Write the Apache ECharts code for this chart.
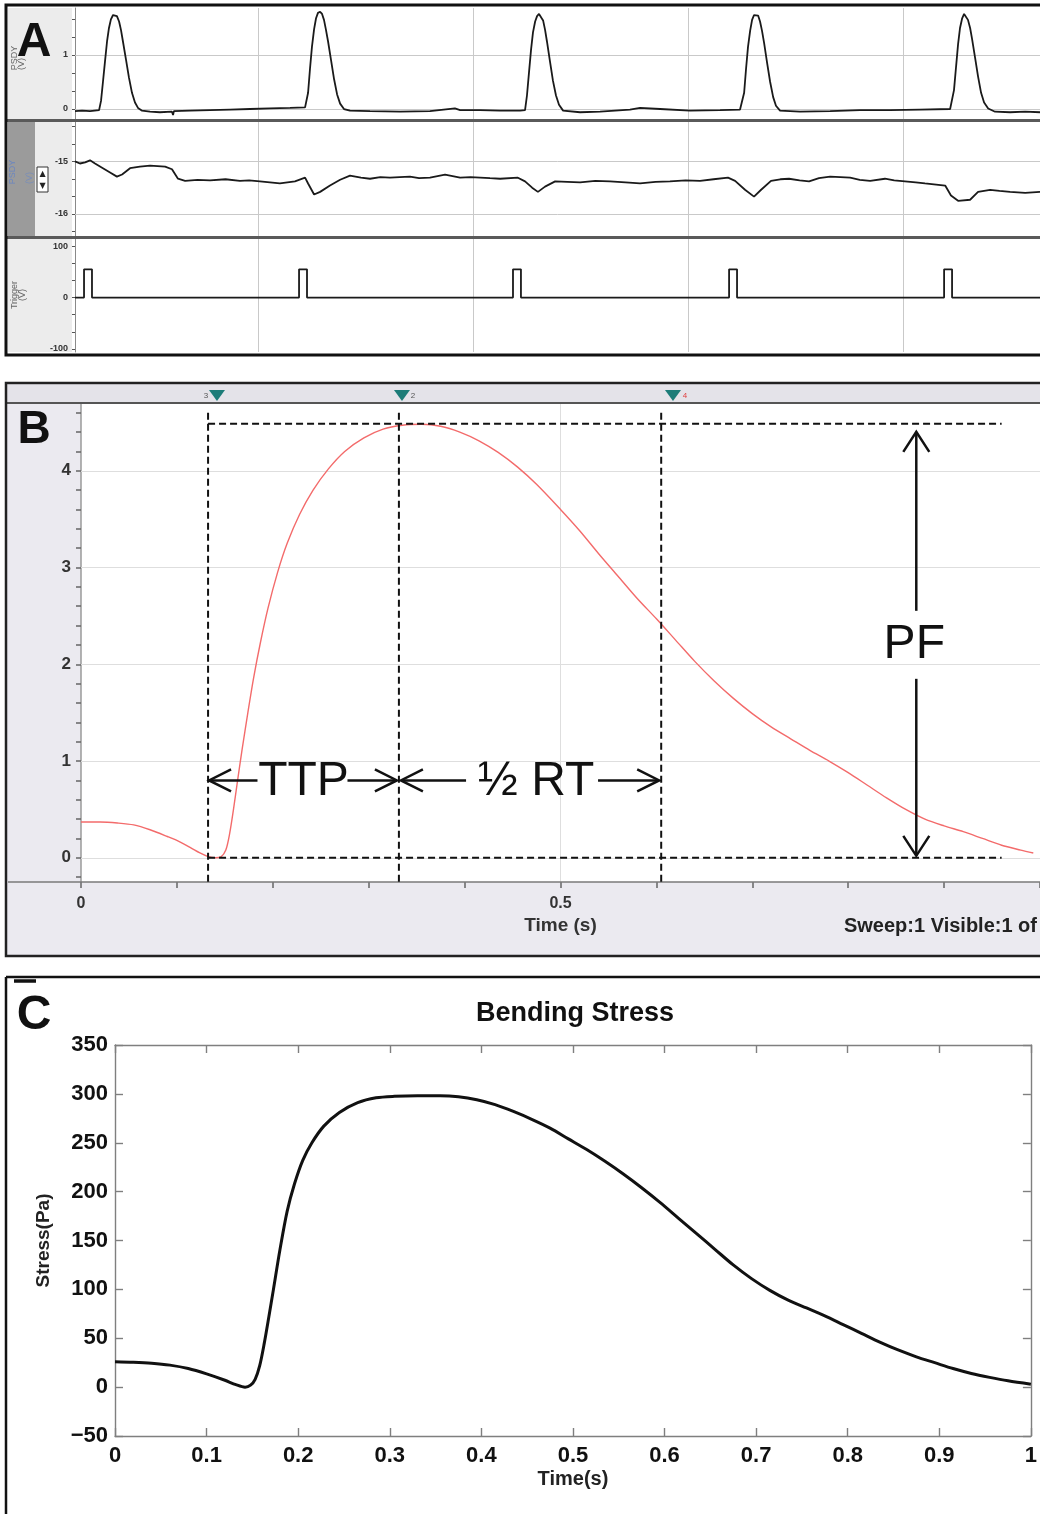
<!DOCTYPE html>
<html><head><meta charset="utf-8">
<script src="https://cdn.jsdelivr.net/npm/echarts@6.0.0/dist/echarts.min.js"></script>
<style>html,body{margin:0;padding:0;background:#fff}#c{width:1040px;height:1514px}</style>
</head><body><div id="c"></div>
<script>
// ================= DATA =================
// Panel A (time in s, one pacing period per grid division)
const aGridTimes = [0.847, 1.847, 2.847, 3.847];
const aPsdyTicks = [0, 0.333, 0.667, 1, 1.333, 1.667];
const aPsdyLabels = [0, 1];
const aPsdyGrid = [0, 1];
const aPsdy = [
 [0,-0.04],[0.033,-0.03],[0.07,-0.04],[0.112,-0.02],[0.121,0.15],[0.13,0.5],[0.14,0.9],[0.149,1.25],[0.158,1.5],[0.167,1.66],[0.177,1.74],[0.186,1.76],[0.195,1.72],[0.205,1.62],[0.214,1.46],[0.223,1.25],[0.237,0.92],[0.251,0.58],[0.265,0.3],[0.279,0.12],[0.293,0.02],[0.312,-0.03],[0.349,-0.05],[0.395,-0.06],[0.451,-0.05],[0.456,-0.11],[0.46,-0.04],[0.535,-0.03],[0.628,-0.02],[0.721,-0.01],[0.814,0.0],[0.907,0.01],[1.0,0.02],[1.07,0.03],
 [1.074,0.04],[1.084,0.3],[1.093,0.75],[1.102,1.15],[1.112,1.48],[1.121,1.68],[1.13,1.78],[1.14,1.8],[1.149,1.76],[1.158,1.65],[1.167,1.47],[1.177,1.25],[1.191,0.9],[1.205,0.55],[1.219,0.27],[1.233,0.1],[1.251,0.0],[1.279,-0.03],[1.372,-0.04],[1.512,-0.05],[1.651,-0.04],[1.767,0.01],[1.791,-0.02],[1.884,-0.02],[1.977,-0.03],[2.07,-0.03],
 [2.093,-0.02],[2.102,0.25],[2.112,0.7],[2.121,1.1],[2.13,1.42],[2.14,1.62],[2.149,1.72],[2.158,1.76],[2.167,1.74],[2.177,1.64],[2.186,1.47],[2.195,1.25],[2.209,0.88],[2.223,0.52],[2.237,0.25],[2.251,0.08],[2.27,-0.03],[2.349,-0.06],[2.442,-0.05],[2.581,-0.01],[2.628,0.02],[2.721,0.0],[2.86,-0.03],[3.0,-0.02],[3.093,-0.01],
 [3.102,0.0],[3.112,0.3],[3.121,0.75],[3.13,1.15],[3.14,1.45],[3.149,1.65],[3.158,1.74],[3.167,1.77],[3.177,1.73],[3.186,1.62],[3.195,1.45],[3.205,1.22],[3.219,0.85],[3.233,0.5],[3.247,0.22],[3.26,0.06],[3.279,-0.03],[3.372,-0.05],[3.512,-0.04],[3.651,-0.02],[3.791,-0.02],[3.93,-0.01],[4.07,0.0],
 [4.079,0.02],[4.088,0.35],[4.098,0.8],[4.107,1.2],[4.116,1.5],[4.126,1.68],[4.135,1.76],[4.144,1.74],[4.153,1.65],[4.163,1.5],[4.172,1.3],[4.186,0.95],[4.2,0.6],[4.214,0.3],[4.228,0.12],[4.247,0.01],[4.279,-0.05],[4.349,-0.06],[4.419,-0.05],[4.488,-0.06]
];
const aPsd2Ticks = [-14.333, -14.667, -15, -15.333, -15.667, -16, -16.333];
const aPsd2Labels = [-15, -16];
const aPsd2Grid = [-15, -16];
const aPsd2 = [
 [0,-15.0],[0.023,-15.04],[0.047,-15.02],[0.07,-14.98],[0.093,-15.04],[0.126,-15.12],[0.163,-15.21],[0.195,-15.29],[0.219,-15.25],[0.256,-15.13],[0.302,-15.1],[0.349,-15.08],[0.419,-15.1],[0.451,-15.15],[0.479,-15.33],[0.512,-15.37],[0.57,-15.35],[0.628,-15.36],[0.7,-15.34],[0.767,-15.37],[0.81,-15.36],[0.86,-15.38],[0.953,-15.42],[1.023,-15.38],[1.07,-15.31],
 [1.084,-15.42],[1.112,-15.63],[1.14,-15.58],[1.186,-15.46],[1.233,-15.35],[1.279,-15.27],[1.33,-15.31],[1.372,-15.33],[1.42,-15.3],[1.465,-15.31],[1.51,-15.3],[1.558,-15.29],[1.6,-15.32],[1.651,-15.31],[1.721,-15.25],[1.791,-15.31],[1.84,-15.3],[1.884,-15.31],[1.93,-15.32],[1.977,-15.33],[2.06,-15.31],
 [2.093,-15.38],[2.126,-15.5],[2.153,-15.58],[2.186,-15.48],[2.233,-15.38],[2.29,-15.39],[2.349,-15.4],[2.42,-15.37],[2.488,-15.38],[2.56,-15.4],[2.628,-15.42],[2.7,-15.39],[2.767,-15.38],[2.84,-15.36],[2.907,-15.37],[2.97,-15.34],[3.037,-15.31],
 [3.07,-15.37],[3.116,-15.54],[3.158,-15.67],[3.191,-15.54],[3.237,-15.37],[3.28,-15.34],[3.321,-15.33],[3.37,-15.36],[3.414,-15.38],[3.46,-15.32],[3.512,-15.29],[3.56,-15.3],[3.605,-15.31],[3.65,-15.35],[3.698,-15.37],[3.767,-15.33],[3.81,-15.36],[3.86,-15.38],[3.91,-15.4],[3.953,-15.42],[4.047,-15.46],
 [4.074,-15.65],[4.107,-15.75],[4.163,-15.73],[4.2,-15.58],[4.256,-15.54],[4.3,-15.56],[4.349,-15.58],[4.419,-15.6],[4.488,-15.58]
];
const aTrigTicks = [-100, -66.7, -33.3, 0, 33.3, 66.7, 100];
const aTrigLabels = [-100, 0, 100];
const aTrig = [
 [0,0],[0.042,0],[0.042,55],[0.079,55],[0.079,0],
 [1.042,0],[1.042,55],[1.079,55],[1.079,0],
 [2.037,0],[2.037,55],[2.074,55],[2.074,0],
 [3.042,0],[3.042,55],[3.079,55],[3.079,0],
 [4.042,0],[4.042,55],[4.079,55],[4.079,0],[4.488,0]
];

// Panel B (force, time s)
const bYTicks = [-0.2,0,0.2,0.4,0.6,0.8,1,1.2,1.4,1.6,1.8,2,2.2,2.4,2.6,2.8,3,3.2,3.4,3.6,3.8,4,4.2,4.4,4.6];
const bYLabels = [0, 1, 2, 3, 4];
const bXLabels = [0, 0.5];
const bGridY = [0, 1, 2, 3, 4];
const bGridX = [0.5];
const bForce = [
 [0,0.37],[0.02,0.37],[0.038,0.36],[0.055,0.34],[0.072,0.29],[0.09,0.22],[0.103,0.165],[0.115,0.1],[0.124,0.05],[0.132,0.015],[0.14,0],[0.146,0.01],[0.151,0.08],[0.155,0.25],[0.159,0.5],[0.163,0.78],[0.168,1.12],[0.174,1.5],[0.18,1.86],[0.187,2.22],[0.195,2.58],[0.205,2.95],[0.215,3.25],[0.228,3.55],[0.242,3.8],[0.258,4.02],[0.275,4.2],[0.295,4.34],[0.315,4.43],[0.335,4.47],[0.355,4.48],[0.375,4.46],[0.395,4.4],[0.415,4.31],[0.435,4.19],[0.455,4.04],[0.475,3.86],[0.5,3.6],[0.52,3.38],[0.54,3.14],[0.56,2.91],[0.58,2.68],[0.6,2.47],[0.62,2.25],[0.64,2.03],[0.66,1.83],[0.68,1.65],[0.7,1.49],[0.72,1.35],[0.74,1.23],[0.76,1.11],[0.78,1.0],[0.8,0.88],[0.82,0.75],[0.84,0.62],[0.86,0.5],[0.88,0.4],[0.9,0.33],[0.92,0.27],[0.94,0.2],[0.96,0.13],[0.98,0.08],[0.993,0.05]
];
const bOnsetT = 0.1325, bPeakT = 0.3315, bHalfT = 0.605, bPeakV = 4.485, bEndT = 0.96;
const bArrowV = 0.8, bPfT = 0.871, bDashTopV = 4.6;
const bCursorT = [0.1418, 0.3347, 0.6173];
const bCursorLbl = ['3', '2', '4'];

// Panel C (bending stress, Pa)
const cStress = [
 [0,26],[0.02,25.5],[0.04,24.5],[0.06,22.5],[0.08,19],[0.1,13.5],[0.12,7],[0.132,2.5],[0.142,0],[0.148,2],[0.153,8],[0.158,22],[0.163,45],[0.168,72],[0.173,100],[0.18,140],[0.188,180],[0.196,208],[0.205,232],[0.215,250],[0.228,267],[0.245,281],[0.265,291],[0.285,296],[0.305,297.5],[0.33,298],[0.355,298],[0.375,297],[0.395,294],[0.415,289],[0.435,282],[0.455,274],[0.475,265],[0.495,254],[0.515,243],[0.535,231],[0.555,218],[0.575,204],[0.595,189],[0.615,173],[0.635,157],[0.655,141],[0.675,125],[0.695,111],[0.715,99],[0.735,89],[0.755,81],[0.775,73],[0.795,64],[0.815,55],[0.835,46],[0.855,38],[0.875,31],[0.895,25],[0.915,19],[0.935,14],[0.955,10],[0.975,6.5],[1.0,3]
];

// ================= CHART =================
const FF = "'Liberation Sans', Arial, sans-serif";
const chart = echarts.init(document.getElementById('c'));

function aX(i){ return {type:'value', gridIndex:i, min:0, max:4.488, show:false}; }
function aY(i, min, max, ticks, labels){
  return {type:'value', gridIndex:i, min:min, max:max,
    axisLine:{show:true, onZero:false, lineStyle:{color:'#8a8a8a', width:1}},
    axisTick:{show:true, length:3, customValues:ticks, lineStyle:{color:'#555', width:1}},
    axisLabel:{show:true, customValues:labels, fontSize:9, fontWeight:'bold', color:'#333', margin:7, fontFamily:FF},
    splitLine:{show:false}};
}
function gridMarks(xs, ys, color){
  const d = [];
  xs.forEach(function(t){ d.push({xAxis:t}); });
  ys.forEach(function(v){ d.push({yAxis:v}); });
  return {silent:true, symbol:'none', z:1, animation:false, label:{show:false},
    lineStyle:{color:color, width:1, type:'solid'}, emphasis:{disabled:true}, data:d};
}
const cAxisLine = {show:true, onZero:false, lineStyle:{color:'#7f7f7f', width:1.4}};
const cTick = {show:true, inside:true, length:8, lineStyle:{color:'#7f7f7f', width:1.4}};

const option = {
  animation:false,
  backgroundColor:'#ffffff',
  grid:[
    {left:75, top:8, right:0, height:111, show:true, backgroundColor:'#fff', borderWidth:0},
    {left:75, top:122, right:0, height:114, show:true, backgroundColor:'#fff', borderWidth:0},
    {left:75, top:239, right:0, height:113, show:true, backgroundColor:'#fff', borderWidth:0},
    {left:81, top:404, width:959, height:478, show:true, backgroundColor:'#fff', borderWidth:0},
    {left:115, top:1045, width:920, height:391, show:false}
  ],
  xAxis:[
    aX(0), aX(1), aX(2),
    {type:'value', gridIndex:3, min:0, max:1, interval:0.1,
     axisLine:{show:false, onZero:false},
     axisTick:{show:true, length:6, lineStyle:{color:'#666', width:1.5}},
     axisLabel:{customValues:bXLabels, fontSize:16, fontWeight:'bold', color:'#333', margin:14, fontFamily:FF},
     splitLine:{show:false},
     name:'Time (s)', nameLocation:'middle', nameGap:34,
     nameTextStyle:{fontSize:19, fontWeight:'bold', color:'#333', fontFamily:FF}},
    {type:'value', gridIndex:4, min:0, max:1, interval:0.1, position:'bottom',
     axisLine:cAxisLine, axisTick:cTick,
     axisLabel:{fontSize:22, fontWeight:'bold', color:'#111', margin:9, fontFamily:FF},
     splitLine:{show:false},
     name:'Time(s)', nameLocation:'middle', nameGap:33,
     nameTextStyle:{fontSize:20, fontWeight:'bold', color:'#222', fontFamily:FF}},
    {type:'value', gridIndex:4, min:0, max:1, interval:0.1, position:'top',
     axisLine:cAxisLine, axisTick:cTick, axisLabel:{show:false}, splitLine:{show:false}}
  ],
  yAxis:[
    aY(0, -0.185, 1.87, aPsdyTicks, aPsdyLabels),
    aY(1, -16.42, -14.25, aPsd2Ticks, aPsd2Labels),
    aY(2, -106, 114, aTrigTicks, aTrigLabels),
    {type:'value', gridIndex:3, min:-0.25, max:4.69,
     axisLine:{show:true, onZero:false, lineStyle:{color:'#9a9a9a', width:1.5}},
     axisTick:{show:true, length:5, customValues:bYTicks, lineStyle:{color:'#666', width:1.5}},
     axisLabel:{customValues:bYLabels, fontSize:17, fontWeight:'bold', color:'#333', margin:10, fontFamily:FF},
     splitLine:{show:false}},
    {type:'value', gridIndex:4, min:-50, max:350, interval:50, position:'left',
     axisLine:cAxisLine, axisTick:cTick,
     axisLabel:{fontSize:22, fontWeight:'bold', color:'#111', margin:7, fontFamily:FF,
       formatter:function(v){ return String(v).replace('-', '\u2212'); }},
     splitLine:{show:false},
     name:'Stress(Pa)', nameLocation:'middle', nameGap:62, nameRotate:90,
     nameTextStyle:{fontSize:19, fontWeight:'bold', color:'#222', fontFamily:FF}},
    {type:'value', gridIndex:4, min:-50, max:350, interval:50, position:'right',
     axisLine:cAxisLine, axisTick:cTick, axisLabel:{show:false}, splitLine:{show:false}}
  ],
  series:[
    {type:'line', xAxisIndex:0, yAxisIndex:0, data:aPsdy, symbol:'none', z:10,
     lineStyle:{color:'#1a1a1a', width:1.8}, markLine:gridMarks(aGridTimes, aPsdyGrid, '#c9c9c9')},
    {type:'line', xAxisIndex:1, yAxisIndex:1, data:aPsd2, symbol:'none', z:10,
     lineStyle:{color:'#1a1a1a', width:1.8}, markLine:gridMarks(aGridTimes, aPsd2Grid, '#c9c9c9')},
    {type:'line', xAxisIndex:2, yAxisIndex:2, data:aTrig, symbol:'none', z:10,
     lineStyle:{color:'#1a1a1a', width:1.8}, markLine:gridMarks(aGridTimes, [], '#c9c9c9')},
    {type:'line', xAxisIndex:3, yAxisIndex:3, data:bForce, symbol:'none', smooth:0.3, z:10,
     lineStyle:{color:'#f36b6b', width:1.4}, markLine:gridMarks(bGridX, bGridY, '#dedede')},
    {type:'line', xAxisIndex:4, yAxisIndex:4, data:cStress, symbol:'none', smooth:0.3, z:10,
     lineStyle:{color:'#111', width:3}}
  ]
};
chart.setOption(option);

// ================= OVERLAY GRAPHICS =================
function P(gi, x, y){ return chart.convertToPixel({gridIndex:gi}, [x, y]); }
function txt(x, y, text, o){ o = o || {};
  return {type:'text', x:x, y:y, z:(o.z||70), rotation:(o.rot||0), silent:true,
    style:{text:text, fill:(o.color||'#111'), font:(o.weight||'normal')+' '+(o.size||12)+'px '+(o.family||FF),
      align:(o.align||'center'), verticalAlign:(o.va||'middle'), textAlign:(o.align||'center'), textVerticalAlign:(o.va||'middle')}}; }
function ln(x1, y1, x2, y2, o){ o = o || {};
  return {type:'line', z:(o.z||60), silent:true, shape:{x1:x1, y1:y1, x2:x2, y2:y2},
    style:{stroke:(o.color||'#111'), lineWidth:(o.w||2), lineDash:(o.dash||null)}}; }
function rc(x, y, w, h, o){ o = o || {};
  return {type:'rect', z:(o.z==null?1:o.z), silent:true, shape:{x:x, y:y, width:w, height:h},
    style:{fill:(o.fill||'none'), stroke:(o.stroke||null), lineWidth:(o.w||0)}}; }
function pl(pts, o){ o = o || {};
  return {type:'polyline', z:(o.z||65), silent:true, shape:{points:pts},
    style:{stroke:(o.color||'#111'), lineWidth:(o.w||2.5), fill:null}}; }
function pg(pts, o){ o = o || {};
  return {type:'polygon', z:(o.z||65), silent:true, shape:{points:pts}, style:{fill:(o.fill||'#111')}}; }

const G = [];
// ---- Panel A frame and labels
G.push(rc(8, 8, 64, 111, {fill:'#ececec', z:-5}));
G.push(rc(8, 122, 27, 114, {fill:'#9b9b9b', z:-5}));
G.push(rc(35, 122, 37, 114, {fill:'#ececec', z:-5}));
G.push(rc(8, 239, 64, 113, {fill:'#ececec', z:-5}));
G.push(rc(7, 119, 1040, 3, {fill:'#5a5a5a', z:60}));
G.push(rc(7, 236, 1040, 3, {fill:'#5a5a5a', z:60}));
G.push(rc(6, 5, 1040, 350, {stroke:'#111', w:3, z:90}));
G.push(txt(15, 58, 'PSDY', {size:9, color:'#666', rot:Math.PI/2}));
G.push(txt(22, 64, '(V)', {size:9, color:'#666', rot:Math.PI/2}));
G.push(txt(34, 43, 'A', {size:48, weight:'bold', z:80}));
G.push(txt(13, 172, 'PSDY', {size:9, color:'#6b86c0', rot:Math.PI/2}));
G.push(txt(30, 178, '(V)', {size:9, color:'#7a8fb8', rot:Math.PI/2}));
G.push(rc(37, 167, 11, 25, {fill:'#fff', stroke:'#333', w:1, z:5}));
G.push(txt(42.5, 174, '\u25B2', {size:8, color:'#222', family:"'DejaVu Sans', sans-serif"}));
G.push(txt(42.5, 186, '\u25BC', {size:8, color:'#222', family:"'DejaVu Sans', sans-serif"}));
G.push(txt(15, 295, 'Trigger', {size:9, color:'#666', rot:Math.PI/2}));
G.push(txt(23, 295, '(V)', {size:9, color:'#666', rot:Math.PI/2}));

// ---- Panel B frame
G.push(rc(7, 384, 1040, 572, {fill:'#ebeaf0', z:-10}));
G.push(rc(7, 385, 1040, 17, {fill:'#e4e3e9', z:-9}));
G.push(ln(7, 403, 1040, 403, {color:'#555', w:2, z:60}));
G.push(ln(8, 882, 1040, 882, {color:'#7a7a7a', w:1.5, z:60}));
G.push(rc(6, 383, 1040, 573, {stroke:'#222', w:2.5, z:90}));
G.push(txt(34, 430, 'B', {size:46, weight:'bold', z:80}));
G.push(txt(1037, 926, 'Sweep:1 Visible:1 of', {size:20, weight:'bold', align:'right', color:'#222'}));

// cursors
bCursorT.forEach(function(t, i){
  const x = P(3, t, 0)[0];
  G.push(pg([[x-8, 390], [x+8, 390], [x, 401]], {fill:'#1c7c78', z:70}));
  if (i === 0) G.push(txt(x-11, 396, bCursorLbl[i], {size:8, color:'#555'}));
  else if (i === 1) G.push(txt(x+11, 396, bCursorLbl[i], {size:8, color:'#555'}));
  else G.push(txt(x+12, 396, bCursorLbl[i], {size:8, color:'#e04040'}));
});

// annotations
const xOn = P(3, bOnsetT, 0)[0], xPk = P(3, bPeakT, 0)[0], xHf = P(3, bHalfT, 0)[0];
const xEnd = P(3, bEndT, 0)[0];
const yPk = P(3, 0, bPeakV)[1], y0 = P(3, 0, 0)[1];
const yTop = P(3, 0, bDashTopV)[1], yBot = P(3, 0, -0.25)[1];
const dashO = {color:'#111', w:2, dash:[7,4], z:62};
[xOn, xPk, xHf].forEach(function(x){ G.push(ln(x, yTop, x, yBot, dashO)); });
[yPk, y0].forEach(function(y){ G.push(ln(xOn, y, xEnd, y, dashO)); });

const yA = P(3, 0, bArrowV)[1];
const aw = 2.5;
function headL(x, y){ return pl([[x+22, y-11], [x, y], [x+22, y+11]], {w:aw}); }
function headR(x, y){ return pl([[x-22, y-11], [x, y], [x-22, y+11]], {w:aw}); }
function headU(x, y){ return pl([[x-13, y+20], [x, y], [x+13, y+20]], {w:aw}); }
function headD(x, y){ return pl([[x-13, y-20], [x, y], [x+13, y-20]], {w:aw}); }
// TTP
const cT = (xOn + xPk) / 2;
G.push(ln(xOn+1, yA, cT-46, yA, {w:aw, z:65}));
G.push(ln(cT+44, yA, xPk-2, yA, {w:aw, z:65}));
G.push(headL(xOn+1, yA)); G.push(headR(xPk-2, yA));
G.push(txt(cT, yA+1, 'TTP', {size:48, color:'#111', z:66}));
// 1/2 RT
const cR = (xPk + xHf) / 2 + 6;
G.push(ln(xPk+2, yA, cR-70, yA, {w:aw, z:65}));
G.push(ln(cR+62, yA, xHf-2, yA, {w:aw, z:65}));
G.push(headL(xPk+2, yA)); G.push(headR(xHf-2, yA));
G.push(txt(cR, yA+1, '\u00BD RT', {size:48, color:'#111', z:66}));
// PF
const xP = P(3, bPfT, 0)[0];
const cP = (yPk + y0) / 2;
G.push(ln(xP, yPk+8, xP, cP-30, {w:aw, z:65}));
G.push(ln(xP, cP+38, xP, y0-2, {w:aw, z:65}));
G.push(headU(xP, yPk+8)); G.push(headD(xP, y0-2));
G.push(txt(xP-2, cP+4, 'PF', {size:48, color:'#111', z:66}));

// ---- Panel C frame
G.push(ln(6, 977, 1040, 977, {color:'#111', w:2.5, z:90}));
G.push(ln(6, 977, 6, 1514, {color:'#111', w:2.5, z:90}));
G.push(ln(14, 981, 36, 981, {color:'#111', w:3.5, z:90}));
G.push(txt(34, 1016, 'C', {size:48, weight:'bold', z:80}));
G.push(txt(575, 1014, 'Bending Stress', {size:27, weight:'bold', color:'#111'}));

chart.setOption({graphic:{elements:G}});
</script></body></html>
